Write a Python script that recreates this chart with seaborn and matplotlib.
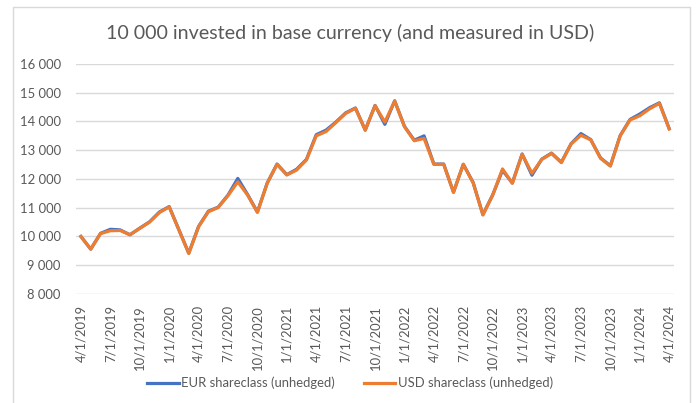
import numpy as np
import pandas as pd
import matplotlib
matplotlib.use('Agg')
import seaborn as sns
import matplotlib.pyplot as plt
from matplotlib.patches import Rectangle

months = pd.date_range('2019-04-01', '2024-04-01', freq='MS')
month_labels = [f'{d.month}/{d.day}/{d.year}' for d in months]

usd = [10000, 9560, 10100, 10200, 10210, 10060, 10280, 10500, 10830, 11030,
       10220, 9410, 10340, 10860, 11010, 11420, 11900, 11440, 10840, 11850,
       12510, 12140, 12310, 12660, 13500, 13650, 13960, 14280, 14460, 13700,
       14550, 13980, 14710, 13820, 13330, 13410, 12510, 12510, 11540, 12510,
       11870, 10750, 11440, 12350, 11850, 12860, 12200, 12680, 12890, 12570,
       13220, 13520, 13360, 12720, 12450, 13500, 14050, 14200, 14440, 14630,
       13740]
eur = [10000, 9560, 10110, 10250, 10230, 10060, 10290, 10510, 10850, 11040,
       10230, 9420, 10350, 10880, 11020, 11440, 12020, 11460, 10850, 11860,
       12520, 12150, 12340, 12680, 13540, 13700, 13980, 14300, 14470, 13700,
       14560, 13900, 14720, 13830, 13350, 13500, 12520, 12520, 11540, 12510,
       11880, 10760, 11450, 12300, 11860, 12870, 12130, 12690, 12900, 12580,
       13230, 13580, 13370, 12730, 12460, 13510, 14070, 14260, 14480, 14650,
       13750]

series_names = ['EUR shareclass (unhedged)', 'USD shareclass (unhedged)']
palette = {series_names[0]: '#4472C4', series_names[1]: '#ED7D31'}

df = pd.DataFrame({
    'pos': list(range(len(months))) * 2,
    'value': eur + usd,
    'series': [series_names[0]] * len(eur) + [series_names[1]] * len(usd),
})

plt.rcParams['font.family'] = ['Lato', 'DejaVu Sans']
text_col = '#595959'

fig = plt.figure(figsize=(7, 4.03), dpi=100)
ax = fig.add_axes([0.1086, 0.2705, 0.963 - 0.1086, 0.8412 - 0.2705])

sns.lineplot(data=df, x='pos', y='value', hue='series', palette=palette,
             linewidth=2.3, ax=ax, legend=False)

ax.set_xlim(-0.5, len(months) - 0.5)
ax.set_ylim(8000, 16000)
ax.set_yticks(range(8000, 16001, 1000))
ax.set_yticklabels([f'{v:,}'.replace(',', ' ') for v in range(8000, 16001, 1000)],
                   color=text_col, fontsize=9.4)
tick_pos = list(range(0, len(months), 3))
ax.set_xticks(tick_pos)
ax.set_xticklabels([month_labels[i] for i in tick_pos], rotation=90,
                   color=text_col, fontsize=9.4)
ax.tick_params(length=0, pad=8)
ax.tick_params(axis='y', pad=11)
ax.grid(axis='y', color='#d9d9d9', linewidth=1)
ax.set_axisbelow(True)
for s in ax.spines.values():
    s.set_visible(False)
ax.set_xlabel('')
ax.set_ylabel('')

fig.text(0.5, 1 - 33 / 403, '10 000 invested in base currency (and measured in USD)',
         ha='center', va='center', fontsize=14.1, color=text_col)

handles = [plt.Line2D([], [], color=palette[n], linewidth=2.3) for n in series_names]
fig.legend(handles, series_names, loc='center', bbox_to_anchor=(0.5, 1 - 383 / 403),
           ncol=2, frameon=False, fontsize=9.4, handlelength=2.4,
           handletextpad=0.2, columnspacing=2.2, labelcolor=text_col)

fig.patches.append(Rectangle((12.5 / 700, -0.1), (690 - 12.5) / 700, 1 - 7 / 403 + 0.1,
                             transform=fig.transFigure, fill=False,
                             edgecolor='#d9d9d9', linewidth=1))

fig.savefig('out.png', dpi=100)
